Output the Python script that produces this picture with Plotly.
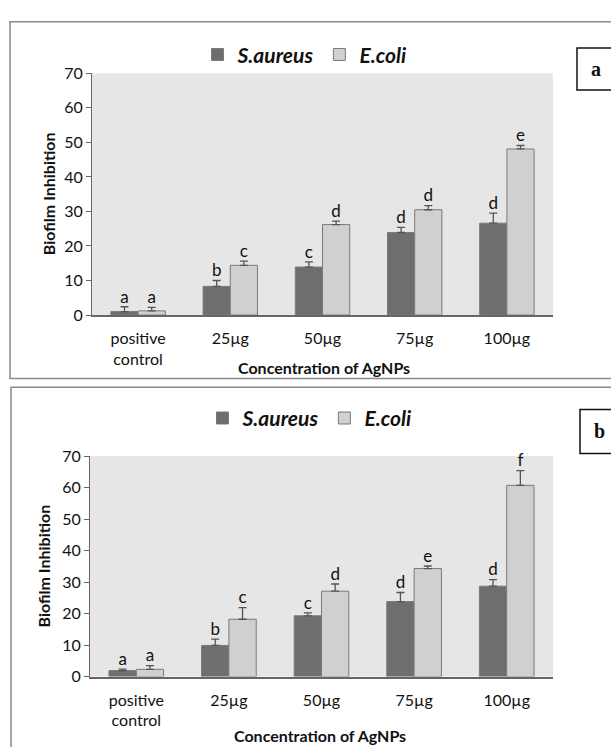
import plotly.graph_objects as go

categories = ["positive<br>control", "25µg", "50µg", "75µg", "100µg"]

# Panel a
a_saureus = [1.0, 8.3, 13.9, 23.9, 26.6]
a_saureus_err = [1.4, 1.7, 1.5, 1.5, 2.9]
a_ecoli = [1.2, 14.4, 26.2, 30.5, 48.1]
a_ecoli_err = [1.0, 1.2, 1.0, 1.2, 1.0]
a_saureus_lbl = ["a", "b", "c", "d", "d"]
a_ecoli_lbl = ["a", "c", "d", "d", "e"]

# Panel b
b_saureus = [1.9, 9.9, 19.3, 23.8, 28.7]
b_saureus_err = [0.5, 2.0, 0.9, 2.9, 2.1]
b_ecoli = [2.3, 18.2, 27.1, 34.3, 60.7]
b_ecoli_err = [1.2, 3.7, 2.3, 0.8, 4.7]
b_saureus_lbl = ["a", "b", "c", "d", "d"]
b_ecoli_lbl = ["a", "c", "d", "e", "f"]

DARK = "#6e6e6e"
LIGHT = "#d0d0d0"
EDGE = "#7a7a7a"
FONT = "Lato"

fig = go.Figure()


def add_panel(xa, ya, legend, s_vals, s_err, e_vals, e_err, s_lbl, e_lbl):
    for name, vals, err, color, grp, lbl in [
        ("S.aureus", s_vals, s_err, DARK, "s", s_lbl),
        ("E.coli", e_vals, e_err, LIGHT, "e", e_lbl),
    ]:
        fig.add_trace(go.Bar(
            x=categories, y=vals, name=name, xaxis=xa, yaxis=ya, legend=legend,
            offsetgroup=grp,
            marker=dict(color=color, line=dict(color=EDGE, width=1)),
            error_y=dict(type="data", symmetric=False, array=err,
                         arrayminus=[0] * len(err), color="#555555",
                         thickness=1.3, width=4),
        ))
        tops = [v + e for v, e in zip(vals, err)]
        fig.add_trace(go.Scatter(
            x=categories, y=tops, mode="text", text=lbl, textposition="top center",
            textfont=dict(family=FONT, size=17, color="#111111"), cliponaxis=False,
            offsetgroup=grp, xaxis=xa, yaxis=ya, showlegend=False, hoverinfo="skip",
        ))


add_panel("x", "y", "legend", a_saureus, a_saureus_err, a_ecoli, a_ecoli_err,
          a_saureus_lbl, a_ecoli_lbl)
add_panel("x2", "y2", "legend2", b_saureus, b_saureus_err, b_ecoli, b_ecoli_err,
          b_saureus_lbl, b_ecoli_lbl)

W, H = 611, 747


def px_x(v):
    return v / W


def px_y(v):
    return 1 - v / H


xaxis_common = dict(
    showgrid=False, zeroline=False, showline=True, linecolor="#666666", linewidth=1.5,
    ticks="", ticklabelstandoff=8,
    tickfont=dict(family=FONT, size=16, color="#111111"), fixedrange=True,
)
yaxis_common = dict(
    range=[0, 70], dtick=10, showgrid=False, zeroline=False, showline=True,
    linecolor="#666666", linewidth=1.2, ticks="outside", ticklen=5, tickcolor="#666666",
    tickfont=dict(family=FONT, size=16, color="#111111"), fixedrange=True,
)

legend_common = dict(
    orientation="h", xanchor="center", yanchor="middle",
    font=dict(family=FONT, size=21, color="#111111", weight="bold", style="italic"),
    bgcolor="rgba(0,0,0,0)", itemwidth=30, tracegroupgap=0,
)

fig.update_layout(
    width=W, height=H,
    margin=dict(l=0, r=0, t=0, b=0),
    paper_bgcolor="white",
    plot_bgcolor="#e6e6e6",
    barmode="group", bargap=0.41, bargroupgap=0,
    scattermode="group", scattergap=0.41,
    xaxis=dict(domain=[px_x(92), px_x(553)], anchor="y", **xaxis_common),
    yaxis=dict(domain=[px_y(313), px_y(65)], anchor="x", **yaxis_common),
    xaxis2=dict(domain=[px_x(90), px_x(553)], anchor="y2", **xaxis_common),
    yaxis2=dict(domain=[px_y(684), px_y(457.7)], anchor="x2", **yaxis_common),
    legend=dict(x=px_x(305), y=px_y(46), **legend_common),
    legend2=dict(x=px_x(310), y=px_y(419), **legend_common),
    showlegend=True,
)

# Panel borders
fig.add_shape(type="rect", xref="paper", yref="paper",
              x0=px_x(10), x1=px_x(620), y0=px_y(378), y1=px_y(12),
              line=dict(color="#8a8a8a", width=1.5), layer="below")
fig.add_shape(type="rect", xref="paper", yref="paper",
              x0=px_x(11), x1=px_x(620), y0=px_y(760), y1=px_y(387),
              line=dict(color="#8a8a8a", width=1.5), layer="below")
# Label boxes
fig.add_shape(type="rect", xref="paper", yref="paper",
              x0=px_x(577), x1=px_x(620), y0=px_y(82), y1=px_y(39),
              line=dict(color="#111111", width=1.5))
fig.add_shape(type="rect", xref="paper", yref="paper",
              x0=px_x(580), x1=px_x(620), y0=px_y(455), y1=px_y(410),
              line=dict(color="#111111", width=1.5))

ann_font_title = dict(family=FONT, size=16, color="#111111", weight="bold")
for txt, x, y in [("a", 596, 61), ("b", 599, 432)]:
    fig.add_annotation(text=txt, xref="paper", yref="paper", x=px_x(x), y=px_y(y),
                       showarrow=False, xanchor="center", yanchor="middle",
                       font=dict(family="Liberation Serif", size=20, color="#111111",
                                 weight="bold"))

# Axis titles
fig.add_annotation(text="Biofilm Inhibition", xref="paper", yref="paper",
                   x=px_x(48), y=px_y(189), textangle=-90, showarrow=False,
                   xanchor="center", yanchor="middle", font=ann_font_title)
fig.add_annotation(text="Concentration of AgNPs", xref="paper", yref="paper",
                   x=px_x(324), y=px_y(367), showarrow=False,
                   xanchor="center", yanchor="middle", font=ann_font_title)
fig.add_annotation(text="Biofilm Inhibition", xref="paper", yref="paper",
                   x=px_x(43), y=px_y(571), textangle=-90, showarrow=False,
                   xanchor="center", yanchor="middle", font=ann_font_title)
fig.add_annotation(text="Concentration of AgNPs", xref="paper", yref="paper",
                   x=px_x(320), y=px_y(744), showarrow=False,
                   xanchor="center", yanchor="middle", font=ann_font_title)

fig.write_html("out.html", config={"displayModeBar": False},
               post_script="document.body.style.margin='0';document.body.style.overflow='hidden';")
